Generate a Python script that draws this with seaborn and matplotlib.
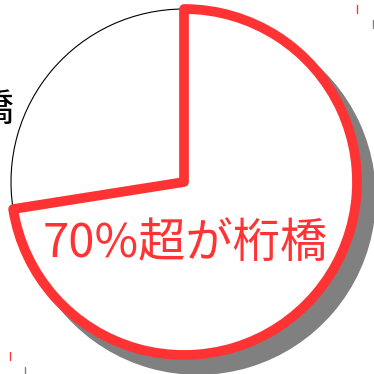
import matplotlib
matplotlib.use("Agg")
import matplotlib.pyplot as plt
import seaborn as sns

sns.set_theme(style="white")
plt.rcParams["font.family"] = ["Noto Sans CJK JP", "DejaVu Sans"]

# Share of bridge types
categories = ["桁橋", "その他"]
shares = [72.5, 27.5]
headline = "70%超が桁橋"
side_label = "橋"

RED = "#FF3333"
GREY = "#808080"

W = H = 374
fig = plt.figure(figsize=(W / 100, H / 100), dpi=100)
ax = fig.add_axes([0, 0, 1, 1])

cx, cy, r = 184, 192, 173
shadow_dx, shadow_dy = 14, -15

# drop shadow of the main slice
sh, _ = ax.pie(shares, startangle=90, counterclock=False, radius=r,
               center=(cx + shadow_dx, cy + shadow_dy),
               colors=[GREY, "none"],
               wedgeprops=dict(linewidth=0), normalize=True)
sh[0].set_zorder(1)
sh[0].set_edgecolor(GREY)
sh[0].set_linewidth(7)
sh[1].set_visible(False)

# the pie itself
wedges, _ = ax.pie(shares, startangle=90, counterclock=False, radius=r,
                   center=(cx, cy), colors=["white", "white"],
                   normalize=True)
wedges[1].set_edgecolor("black")
wedges[1].set_linewidth(0.8)
wedges[1].set_zorder(2)
wedges[0].set_edgecolor(RED)
wedges[0].set_linewidth(7)
wedges[0].set_joinstyle("round")
wedges[0].set_zorder(3)

ax.text(cx + 1, H - 244, headline, color=RED, fontsize=34,
        ha="center", va="center", zorder=5)
ax.text(-6, H - 110, side_label, color="black", fontsize=28,
        ha="center", va="center", zorder=5)

# printer's crop ticks
for x0, y0, y1, c in [(357, 5, 13, RED), (373, 20, 28, GREY),
                      (10, 352, 360, RED), (25, 367, 374, GREY)]:
    ax.plot([x0, x0], [H - y0, H - y1], color=c, lw=1, zorder=6)

ax.set_xlim(0, W)
ax.set_ylim(0, H)
ax.set_aspect("auto")
ax.axis("off")
fig.savefig("out.png", dpi=100, facecolor="white")
